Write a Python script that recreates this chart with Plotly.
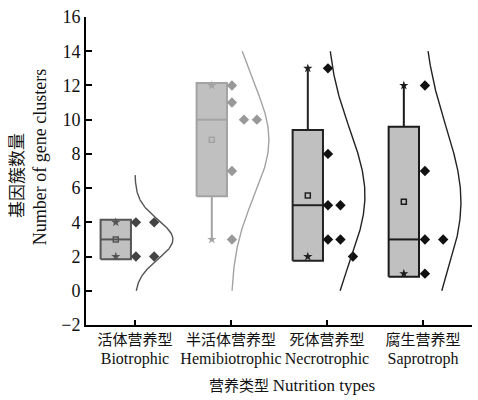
import numpy as np
import plotly.graph_objects as go

# ---------------- data ----------------
categories_cn = ["活体营养型", "半活体营养型", "死体营养型", "腐生营养型"]
categories_en = ["Biotrophic", "Hemibiotrophic", "Necrotrophic", "Saprotroph"]

biotrophic = [4, 4, 2, 2]
hemibiotrophic = [12, 11, 10, 10, 7, 3]
necrotrophic = [13, 8, 5, 5, 3, 3, 2]
saprotroph = [12, 7, 3, 3, 1]

curve_upper = [6.76, 14, 14, 14]   # upper end of each normal curve
curve_lower = [0, 0, 0, 0]

y_ticks = [-2, 0, 2, 4, 6, 8, 10, 12, 14, 16]

# ---------------- style ----------------
groups = [biotrophic, hemibiotrophic, necrotrophic, saprotroph]
edge_colors = ["#555555", "#a3a3a3", "#222222", "#1a1a1a"]
point_colors = ["#444444", "#999999", "#111111", "#111111"]
curve_colors = ["#555555", "#a3a3a3", "#222222", "#222222"]
fill_color = "#c0c0c0"
# horizontal slot offsets (category units) of the scattered points
point_dx = [
    [0.01, 0.20, 0.01, 0.20],
    [0.01, 0.01, 0.135, 0.27, 0.01, 0.01],
    [0.01, 0.01, 0.01, 0.14, 0.01, 0.14, 0.27],
    [0.02, 0.02, 0.02, 0.21, 0.02],
]
box_offset = -0.2
box_half = 0.158
curve_peak = 0.395

serif = "Liberation Serif, Times New Roman, Noto Sans CJK SC, serif"
txt = "#111111"

fig = go.Figure()

for i, vals in enumerate(groups):
    v = np.array(vals, dtype=float)
    mean = v.mean()
    sd = v.std(ddof=1)
    med = float(np.median(v))
    lo, hi = mean - sd, mean + sd
    vmin, vmax = v.min(), v.max()
    cx = i + box_offset
    ec = edge_colors[i]

    # whiskers (min / max beyond box)
    if vmax > hi:
        fig.add_trace(go.Scatter(x=[cx, cx], y=[hi, vmax], mode="lines",
                                 line=dict(color=ec, width=2), hoverinfo="skip"))
    if vmin < lo:
        fig.add_trace(go.Scatter(x=[cx, cx], y=[vmin, lo], mode="lines",
                                 line=dict(color=ec, width=2), hoverinfo="skip"))
    # box (mean ± SD)
    x0, x1 = cx - box_half, cx + box_half
    fig.add_trace(go.Scatter(x=[x0, x1, x1, x0, x0], y=[lo, lo, hi, hi, lo],
                             mode="lines", fill="toself", fillcolor=fill_color,
                             line=dict(color=ec, width=2), hoverinfo="skip"))
    # median
    fig.add_trace(go.Scatter(x=[x0, x1], y=[med, med], mode="lines",
                             line=dict(color=ec, width=2), hoverinfo="skip"))
    # mean marker
    fig.add_trace(go.Scatter(x=[cx], y=[mean], mode="markers",
                             marker=dict(symbol="square-open", size=5, color=ec,
                                         line=dict(width=1.5, color=ec))))
    # min / max markers
    fig.add_trace(go.Scatter(x=[cx, cx], y=[vmin, vmax], mode="markers",
                             marker=dict(symbol="star", size=7, color=ec,
                                         line=dict(width=0))))
    # data points
    fig.add_trace(go.Scatter(x=[i + d for d in point_dx[i]], y=v, mode="markers",
                             marker=dict(symbol="diamond", size=8, color=point_colors[i],
                                         line=dict(width=0))))
    # normal curve
    yy = np.linspace(curve_lower[i], curve_upper[i], 200)
    xx = i + curve_peak * np.exp(-0.5 * ((yy - mean) / sd) ** 2)
    fig.add_trace(go.Scatter(x=xx, y=yy, mode="lines",
                             line=dict(color=curve_colors[i], width=1.4),
                             hoverinfo="skip"))

fig.update_layout(
    width=478, height=400,
    margin=dict(l=86, r=6, t=17, b=75, autoexpand=False),
    paper_bgcolor="white", plot_bgcolor="white",
    showlegend=False,
    font=dict(family=serif, size=15, color=txt),
)
fig.update_xaxes(
    range=[-0.51, 3.51], tickmode="array", tickvals=[0, 1, 2, 3],
    ticktext=[f"{c}<br><span style='font-size:16px'>{e}</span>"
              for c, e in zip(categories_cn, categories_en)],
    tickangle=0, automargin=False,
    ticks="inside", ticklen=5, tickwidth=1.5, tickcolor="black",
    showline=True, linecolor="black", linewidth=1.8, showgrid=False, zeroline=False,
    tickfont=dict(family=serif, size=15, color=txt),
)
fig.update_yaxes(
    range=[-2, 16], tickmode="array", tickvals=y_ticks,
    ticktext=[("\u2212" + str(-t)) if t < 0 else str(t) for t in y_ticks],
    automargin=False,
    ticks="inside", ticklen=6, tickwidth=1.5, tickcolor="black",
    showline=True, linecolor="black", linewidth=1.8, showgrid=False, zeroline=False,
    tickfont=dict(family=serif, size=18, color=txt),
)

fig.add_annotation(text="基因簇数量", xref="paper", yref="paper", x=-0.176, y=0.484,
                   xanchor="center", yanchor="middle",
                   textangle=-90, showarrow=False, font=dict(family=serif, size=17, color=txt))
fig.add_annotation(text="Number of gene clusters", xref="paper", yref="paper",
                   x=-0.119, y=0.545, xanchor="center", yanchor="middle",
                   textangle=-90, showarrow=False,
                   font=dict(family=serif, size=18, color=txt))
fig.add_annotation(text="营养类型 <span style='font-size:17px'>Nutrition types</span>",
                   xref="paper", yref="paper",
                   x=0.534, y=-0.195, xanchor="center", yanchor="middle",
                   showarrow=False, font=dict(family=serif, size=15, color=txt))

fig.write_html("out.html")
